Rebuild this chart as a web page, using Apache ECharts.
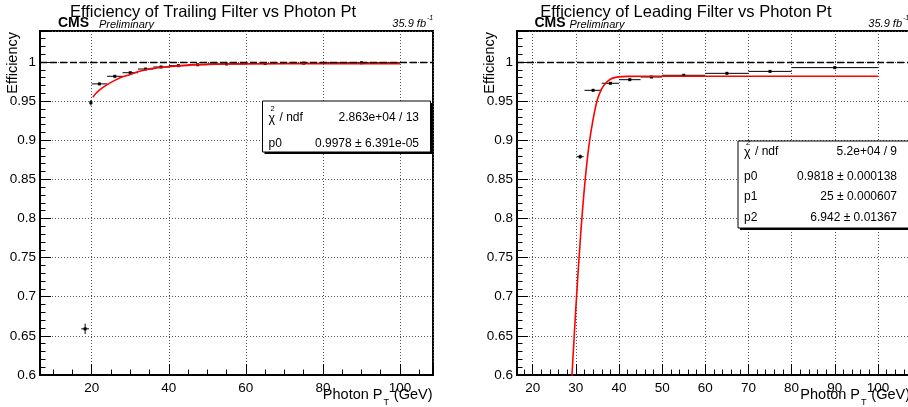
<!DOCTYPE html>
<html>
<head>
<meta charset="utf-8">
<title>Photon filter efficiency</title>
<script src="https://cdn.jsdelivr.net/npm/echarts@6/dist/echarts.min.js"></script>
<style>
  html, body { margin: 0; padding: 0; background: #fff; }
  #chart { width: 908px; height: 407px; }
</style>
</head>
<body>
<div id="chart"></div>
<script>
// trailing filter: bin edges, efficiency, stat error
const trailLo  = [17.3, 19.5, 20, 24, 28, 32, 36, 40, 45, 50, 60, 70, 80];
const trailHi  = [19.3, 20.1, 24, 28, 32, 36, 40, 45, 50, 60, 70, 80, 100];
const trailEff = [0.659, 0.948, 0.972, 0.9817, 0.9863, 0.991, 0.9936, 0.9953, 0.9965, 0.9975, 0.998, 0.9985, 0.999];
const trailErr = [0.006, 0.003, 0.0008, 0.0006, 0.0005, 0.0004, 0.0004, 0.0003, 0.0003, 0.0002, 0.0002, 0.0002, 0.0002];
// trailing fit curve
const trailFitX = [20.3, 21, 22, 24, 26, 28, 30, 32, 34, 36, 40, 45, 50, 60, 80, 100];
const trailFitY = [0.955, 0.9595, 0.964, 0.971, 0.9765, 0.981, 0.984, 0.9875, 0.990, 0.9918, 0.994, 0.996, 0.997, 0.9976, 0.9978, 0.9978];

// leading filter
const leadLo  = [30.2, 32, 36, 40, 45, 50, 60, 70, 80];
const leadHi  = [31.8, 36, 40, 45, 50, 60, 70, 80, 100];
const leadEff = [0.879, 0.9638, 0.9728, 0.9774, 0.9808, 0.983, 0.9855, 0.988, 0.9928];
const leadErr = [0.002, 0.0008, 0.0006, 0.0005, 0.0005, 0.0004, 0.0004, 0.0004, 0.0003];
const leadFitX = [28.6, 29.1, 30, 31, 32, 33, 34, 35, 36, 37, 38, 39, 40, 42, 45, 100];
const leadFitY = [0.56, 0.6, 0.686, 0.771, 0.84, 0.892, 0.927, 0.952, 0.966, 0.9735, 0.978, 0.980, 0.981, 0.9816, 0.9818, 0.9818];

// axis ranges and tick steps
const yRange = [0.6, 1.0396];
const yStep = [0.05, 0.01];
const trailRange = [6.59, 108.56];
const trailStep = [20, 5];
const leadRange = [16.36, 107.2];
const leadStep = [10, 2];

const statsTrail = [['p0', '0.9978 \u00b1 6.391e-05']];
const chiTrail = '2.863e+04 / 13';
const statsLead = [['p0', '0.9818 \u00b1 0.000138'], ['p1', '25 \u00b1 0.000607'], ['p2', '6.942 \u00b1 0.01367']];
const chiLead = '5.2e+04 / 9';

const FONT = "'Liberation Sans', Arial, Helvetica, sans-serif";

function isMult(v, step) {
    const r = v / step;
    return Math.abs(r - Math.round(r)) < 1e-6;
}

function xMajor(grid, range, step) {
    const span = range[1] - range[0];
    return {
        type: 'value', gridIndex: grid, position: 'bottom',
        min: range[0], max: range[1],
        splitNumber: Math.round(span / step), minInterval: step, maxInterval: step,
        axisLine: { show: true, onZero: false, lineStyle: { color: '#000', width: 2 } },
        axisTick: { show: true, inside: true, length: 11, lineStyle: { color: '#000', width: 1 } },
        axisLabel: {
            color: '#000', fontSize: 13.5, fontFamily: FONT, margin: 6,
            showMinLabel: true, showMaxLabel: true,
            formatter: v => isMult(v, step) ? String(Math.round(v)) : ''
        },
        splitLine: { show: true, lineStyle: { color: '#555', type: [1, 2], width: 1 } }
    };
}
function xMinor(grid, range, step) {
    const span = range[1] - range[0];
    return {
        type: 'value', gridIndex: grid, position: 'bottom',
        min: range[0], max: range[1],
        splitNumber: Math.round(span / step), minInterval: step, maxInterval: step,
        axisLine: { show: false },
        axisTick: { show: true, inside: true, length: 5.5, lineStyle: { color: '#000', width: 1 } },
        axisLabel: { show: false },
        splitLine: { show: false }
    };
}
function yMajor(grid) {
    return {
        type: 'value', gridIndex: grid, position: 'left',
        min: yRange[0], max: yRange[1],
        splitNumber: 9, minInterval: yStep[0], maxInterval: yStep[0],
        axisLine: { show: true, onZero: false, lineStyle: { color: '#000', width: 2 } },
        axisTick: { show: true, inside: true, length: 11, lineStyle: { color: '#000', width: 1 } },
        axisLabel: {
            color: '#000', fontSize: 13.5, fontFamily: FONT, margin: 4,
            showMinLabel: true,
            formatter: v => v <= 1.0001 ? String(+v.toFixed(2)) : ''
        },
        splitLine: { show: true, lineStyle: { color: '#555', type: [1, 2], width: 1 } }
    };
}
function yMinor(grid) {
    return {
        type: 'value', gridIndex: grid, position: 'left',
        min: yRange[0], max: yRange[1],
        splitNumber: 44, minInterval: yStep[1], maxInterval: yStep[1],
        axisLine: { show: false },
        axisTick: { show: true, inside: true, length: 5.5, lineStyle: { color: '#000', width: 1 } },
        axisLabel: { show: false },
        splitLine: { show: false }
    };
}

// points with horizontal bin width and vertical stat error
function errorSeries(lo, hi, eff, err, xi, yi) {
    const data = eff.map((e, i) => [(lo[i] + hi[i]) / 2, e, lo[i], hi[i], err[i]]);
    return {
        type: 'custom', xAxisIndex: xi, yAxisIndex: yi, z: 3, silent: true,
        encode: { x: 0, y: 1 },
        data,
        renderItem(params, api) {
            const x = api.value(0), y = api.value(1), e = api.value(4);
            const l = api.coord([api.value(2), y]);
            const r = api.coord([api.value(3), y]);
            const t = api.coord([x, y + e]);
            const b = api.coord([x, y - e]);
            const c = api.coord([x, y]);
            const st = { stroke: '#000', lineWidth: 1 };
            return {
                type: 'group', children: [
                    { type: 'line', shape: { x1: l[0], y1: l[1], x2: r[0], y2: r[1] }, style: st },
                    { type: 'line', shape: { x1: t[0], y1: t[1] - 0.5, x2: b[0], y2: b[1] + 0.5 }, style: st },
                    { type: 'rect', shape: { x: c[0] - 1.5, y: c[1] - 1.5, width: 3, height: 3 }, style: { fill: '#000' } }
                ]
            };
        }
    };
}
function fitSeries(xs, ys, xi, yi) {
    return {
        type: 'line', xAxisIndex: xi, yAxisIndex: yi, z: 4, silent: true,
        data: xs.map((x, i) => [x, ys[i]]),
        showSymbol: false, symbol: 'none', smooth: 0.3, clip: true,
        lineStyle: { color: '#ff0000', width: 1.6 },
        markLine: {
            silent: true, symbol: 'none', label: { show: false }, animation: false,
            lineStyle: { color: '#000', type: [7, 3], width: 1.3 },
            data: [{ yAxis: 1 }]
        }
    };
}

function txt(x, y, text, size, opt) {
    const o = opt || {};
    return {
        type: 'text', x, y, silent: true, rotation: o.rot || 0, z: 20,
        style: {
            text, fill: '#000',
            font: (o.style || '') + ' ' + (o.weight || 'normal') + ' ' + size + 'px ' + FONT,
            align: o.align || 'left', textAlign: o.align || 'left',
            verticalAlign: 'middle', textVerticalAlign: 'middle'
        }
    };
}
function statBox(x, y, w, h, rows, chi, rowY, valRight) {
    const out = [
        { type: 'rect', z: 15, silent: true, shape: { x: x + 2, y: y + 2, width: w, height: h }, style: { fill: '#000' } },
        { type: 'rect', z: 16, silent: true, shape: { x, y, width: w, height: h }, style: { fill: '#fff', stroke: '#000', lineWidth: 1 } },
        txt(x + 6, rowY[0] + 1, '\u03c7', 12.5),
        txt(x + 8, rowY[0] - 9, '2', 7.5),
        txt(x + 17, rowY[0], '/ ndf', 12),
        txt(valRight, rowY[0], chi, 12, { align: 'right' })
    ];
    rows.forEach((r, i) => {
        out.push(txt(x + 6, rowY[i + 1], r[0], 12));
        out.push(txt(valRight, rowY[i + 1], r[1], 12, { align: 'right' }));
    });
    return out;
}
function axisNames(x0, xEnd) {
    return [
        txt(x0 - 27, 32, 'Efficiency', 14.5, { rot: Math.PI / 2, align: 'right' }),
        txt(xEnd - 50, 395, 'Photon P', 14.5, { align: 'right' }),
        txt(xEnd - 49, 403, 'T', 9),
        txt(xEnd, 395, '(GeV)', 14.5, { align: 'right' })
    ];
}

const chart = echarts.init(document.getElementById('chart'), null, { renderer: 'canvas' });

const graphics = [].concat(
    [
        txt(213, 12, 'Efficiency of Trailing Filter vs Photon Pt', 16.5, { align: 'center' }),
        txt(686, 12, 'Efficiency of Leading Filter vs Photon Pt', 16.5, { align: 'center' }),
        txt(58, 23.5, 'CMS', 14, { weight: 'bold' }),
        txt(99, 24.5, 'Preliminary', 11, { style: 'italic' }),
        txt(426, 24, '35.9 fb', 11, { style: 'italic', align: 'right' }),
        txt(427, 18, '-1', 7, { style: 'italic' }),
        txt(534.5, 23.5, 'CMS', 14, { weight: 'bold' }),
        txt(569.5, 24.5, 'Preliminary', 11, { style: 'italic' }),
        txt(902, 24, '35.9 fb', 11, { style: 'italic', align: 'right' }),
        txt(903, 18, '-1', 7, { style: 'italic' })
    ],
    axisNames(40, 432.5),
    axisNames(517, 910),
    statBox(262.5, 101, 168, 51, statsTrail, chiTrail, [118, 143.5], 419),
    statBox(738, 141, 176, 87, statsLead, chiLead, [151.5, 176.5, 197, 218], 897)
);

chart.setOption({
    animation: false,
    backgroundColor: '#fff',
    grid: [
        { left: 40, top: 31, width: 393, height: 344, show: true, borderColor: '#000', borderWidth: 2, backgroundColor: 'transparent', containLabel: false, outerBoundsMode: 'none' },
        { left: 517, top: 31, width: 392, height: 344, show: true, borderColor: '#000', borderWidth: 2, backgroundColor: 'transparent', containLabel: false, outerBoundsMode: 'none' }
    ],
    xAxis: [
        xMajor(0, trailRange, trailStep[0]),
        xMinor(0, trailRange, trailStep[1]),
        xMajor(1, leadRange, leadStep[0]),
        xMinor(1, leadRange, leadStep[1])
    ],
    yAxis: [yMajor(0), yMinor(0), yMajor(1), yMinor(1)],
    series: [
        errorSeries(trailLo, trailHi, trailEff, trailErr, 0, 0),
        fitSeries(trailFitX, trailFitY, 0, 0),
        errorSeries(leadLo, leadHi, leadEff, leadErr, 2, 2),
        fitSeries(leadFitX, leadFitY, 2, 2)
    ],
    graphic: graphics
});
</script>
</body>
</html>
